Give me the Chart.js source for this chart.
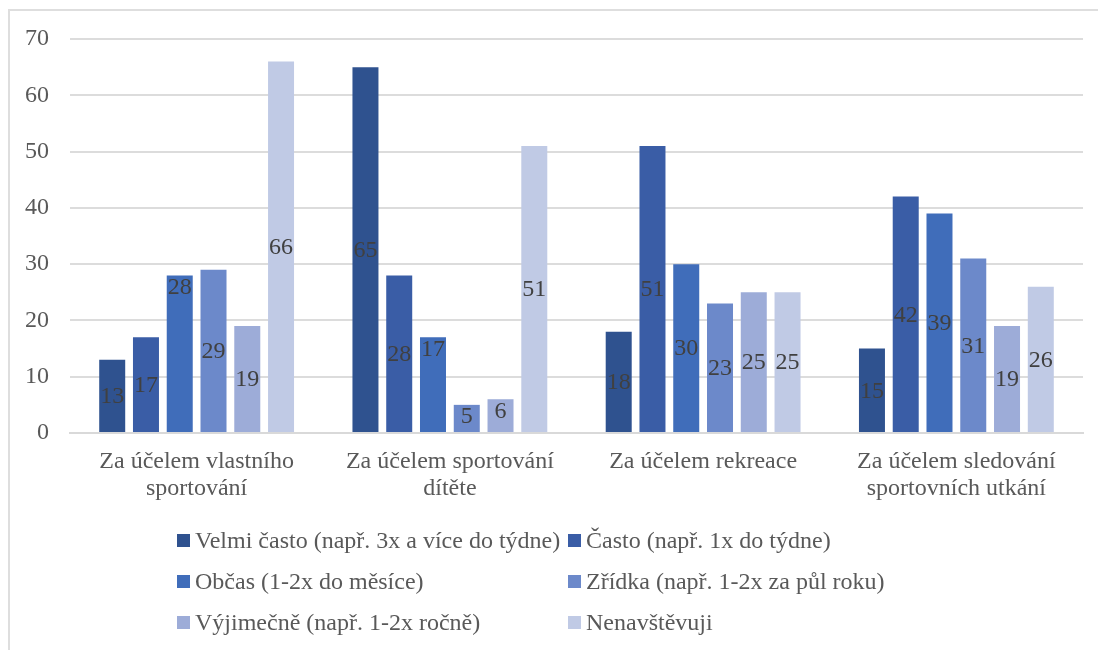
<!DOCTYPE html>
<html lang="cs">
<head>
<meta charset="utf-8">
<title>Návštěvnost sportovních zařízení</title>
<script src="https://cdn.jsdelivr.net/npm/chart.js@4.4.1/dist/chart.umd.min.js"></script>
<style>
  html, body { margin: 0; padding: 0; background: #ffffff; overflow: hidden; }
  #wrap { position: relative; width: 1098px; height: 650px; }
  #frame {
    position: absolute; left: 8px; top: 9px; width: 1200px; height: 800px;
    border: 2px solid #dedede; box-sizing: border-box;
  }
  #chart { position: absolute; left: 0; top: 0; }
  .lg-item {
    position: absolute; display: flex; align-items: center; white-space: nowrap;
    font-family: "Liberation Serif", "Times New Roman", serif; font-size: 24px;
    color: #595959; height: 30px; line-height: 30px;
  }
  .lg-box { width: 13px; height: 13px; margin-right: 5px; flex: none; }
</style>
</head>
<body>
<div id="wrap">
  <div id="frame"></div>
  <canvas id="chart" width="1098" height="650"></canvas>
  <div id="legend"></div>
</div>
<script>
// Categories (purpose of the visit)
const categories = [
  ["Za účelem vlastního", "sportování"],
  ["Za účelem sportování", "dítěte"],
  "Za účelem rekreace",
  ["Za účelem sledování", "sportovních utkání"]
];

// Series names (frequency of visits)
const seriesNames = [
  "Velmi často (např. 3x a více do týdne)",
  "Často (např. 1x do týdne)",
  "Občas (1-2x do měsíce)",
  "Zřídka (např. 1-2x za půl roku)",
  "Výjimečně (např. 1-2x ročně)",
  "Nenavštěvuji"
];

// Series values, one per category
const velmiCasto = [13, 65, 18, 15];
const casto      = [17, 28, 51, 42];
const obcas      = [28, 17, 30, 39];
const zridka     = [29, 5, 23, 31];
const vyjimecne  = [19, 6, 25, 19];
const nenavstevuji = [66, 51, 25, 26];

// Y axis tick labels
const yTicks = [0, 10, 20, 30, 40, 50, 60, 70];

const seriesValues = [velmiCasto, casto, obcas, zridka, vyjimecne, nenavstevuji];
const seriesColors = ["#2f528f", "#3a5da6", "#406dba", "#6c89ca", "#9dacd8", "#c0cae5"];

// Labels that sit near the top end of their bar instead of the middle ("dataset:index")
const endAnchored = new Set(["2:0", "2:1", "3:1", "4:1"]);

const FONT = "'Liberation Serif', 'Times New Roman', serif";

const valueLabels = {
  id: "valueLabels",
  afterDatasetsDraw(chart) {
    const ctx = chart.ctx;
    ctx.save();
    ctx.font = "24px " + FONT;
    ctx.fillStyle = "#404040";
    ctx.textAlign = "center";
    ctx.textBaseline = "middle";
    chart.data.datasets.forEach((ds, di) => {
      const meta = chart.getDatasetMeta(di);
      meta.data.forEach((bar, i) => {
        const top = bar.y, base = bar.base;
        let cy = (top + base) / 2;
        if (endAnchored.has(di + ":" + i)) cy = top + 11;
        ctx.fillText(String(ds.data[i]), bar.x, cy + 1);
      });
    });
    ctx.restore();
  }
};

const chart = new Chart(document.getElementById("chart"), {
  type: "bar",
  data: {
    labels: categories,
    datasets: seriesNames.map((name, k) => ({
      label: name,
      data: seriesValues[k],
      backgroundColor: seriesColors[k],
      borderWidth: 0,
      categoryPercentage: 0.8,
      barPercentage: 0.77
    }))
  },
  options: {
    responsive: false,
    animation: false,
    devicePixelRatio: 1,
    layout: { padding: { top: 39, right: 15, bottom: 0, left: 0 } },
    plugins: {
      legend: { display: false },
      tooltip: { enabled: false }
    },
    scales: {
      x: {
        grid: { display: false, drawTicks: false },
        border: { display: true, color: "#d9d9d9", width: 2 },
        ticks: {
          color: "#595959",
          font: { family: FONT, size: 24, lineHeight: 1.125 },
          padding: 15,
          maxRotation: 0,
          autoSkip: false
        },
        afterFit(scale) { scale.height = 217; }
      },
      y: {
        min: 0,
        max: 70,
        afterBuildTicks(scale) { scale.ticks = yTicks.map(v => ({ value: v })); },
        grid: { color: "#dcdcdc", lineWidth: 2, drawTicks: false },
        border: { display: false },
        ticks: {
          color: "#595959",
          font: { family: FONT, size: 24 },
          padding: 21
        },
        afterFit(scale) { scale.width = 70; }
      }
    }
  },
  plugins: [valueLabels]
});

// Two-column legend under the plot
const legend = document.getElementById("legend");
const colX = [177, 568];
const rowY = [540, 581, 622];
chart.data.datasets.forEach((ds, k) => {
  const item = document.createElement("div");
  item.className = "lg-item";
  item.style.left = colX[k % 2] + "px";
  item.style.top = (rowY[Math.floor(k / 2)] - 15) + "px";
  const box = document.createElement("span");
  box.className = "lg-box";
  box.style.background = ds.backgroundColor;
  const txt = document.createElement("span");
  txt.textContent = ds.label;
  item.appendChild(box);
  item.appendChild(txt);
  legend.appendChild(item);
});
</script>
</body>
</html>
